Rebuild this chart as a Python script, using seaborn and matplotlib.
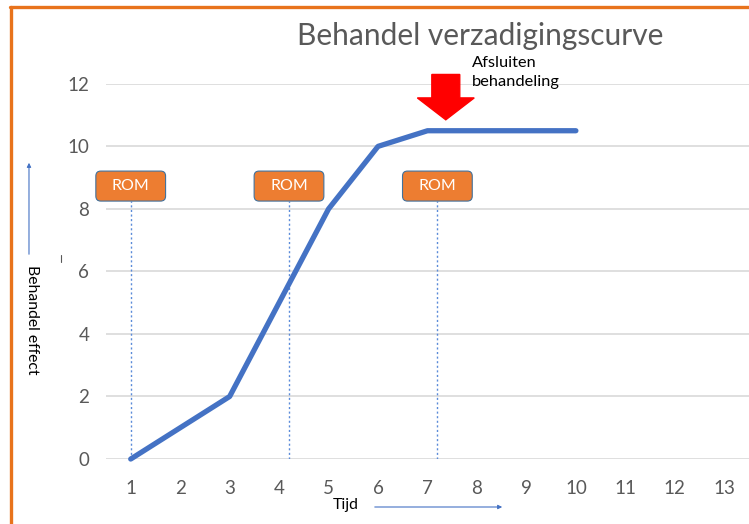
import pandas as pd
import matplotlib.pyplot as plt
import matplotlib.patches as mpatches
from matplotlib.lines import Line2D
import seaborn as sns

# data
tijd = [1, 2, 3, 4, 5, 6, 7, 8, 9, 10]
effect = [0, 1, 2, 5, 8, 10, 10.5, 10.5, 10.5, 10.5]
x_ticks = list(range(1, 14))
rom_momenten = [1, 4.2, 7.2]
rom_labels = ['ROM', 'ROM', 'ROM']
afsluiten_x = 7.37

sns.set_theme(style='white')
plt.rcParams['font.family'] = ['Lato', 'DejaVu Sans']

df = pd.DataFrame({'Tijd': tijd, 'Effect': effect})

fig = plt.figure(figsize=(7.49, 5.24), dpi=100)
ax = fig.add_axes([0.1415, 0.124, 0.8585, 0.716])

# gridlines
for yv in range(0, 13, 2):
	ax.axhline(yv, color='#D9D9D9', lw=1.2, zorder=0)

sns.lineplot(data=df, x='Tijd', y='Effect', ax=ax, color='#4472C4', linewidth=3.8, clip_on=False, zorder=3)

ax.set_xlim(0.5, 13.5)
ax.set_ylim(0, 12)
ax.set_xticks(x_ticks)
ax.set_yticks(range(0, 13, 2))
ax.tick_params(axis='both', length=0, labelsize=13.5, labelcolor='#595959')
ax.tick_params(axis='x', pad=15)
ax.tick_params(axis='y', pad=12)
for s in ax.spines.values():
	s.set_visible(False)
ax.set_xlabel('')
ax.set_ylabel('')

# ROM boxes with dotted lines
box_w, box_h = 1.41, 0.96
for xm, lab in zip(rom_momenten, rom_labels):
	ax.plot([xm, xm], [0, 8.25], color='#5B8BD9', lw=1.0, ls=(0, (1.5, 1.8)), zorder=2)
	box = mpatches.FancyBboxPatch((xm - box_w / 2, 8.25), box_w, box_h,
		boxstyle='round,pad=0,rounding_size=0.1', mutation_aspect=1.587,
		facecolor='#ED7D31', edgecolor='#41719C', lw=0.8, zorder=4, clip_on=False)
	ax.add_patch(box)
	ax.text(xm, 8.25 + box_h / 2, lab, color='white', fontsize=11.5, ha='center', va='center', zorder=5)

# red arrow
arrow = mpatches.FancyArrow(afsluiten_x, 12.3, 0, -1.45, width=0.565, head_width=1.15,
	head_length=0.7, length_includes_head=True, color='#FF0000', clip_on=False, zorder=5)
ax.add_patch(arrow)
fig.text(0.630, 0.893, 'Afsluiten\nbehandeling', fontsize=11.8, color='black', va='top', ha='left', linespacing=1.45)

# title
fig.text(0.641, 0.931, 'Behandel verzadigingscurve', fontsize=21.5, color='#595959', ha='center', va='center')

# axis labels with arrows
fig.text(0.043, 0.389, 'Behandel effect', rotation=-90, fontsize=11.3, color='black', ha='center', va='center')
fig.add_artist(mpatches.FancyArrowPatch((0.0387, 1 - 257 / 524), (0.0387, 1 - 160 / 524),
	transform=fig.transFigure, arrowstyle='-|>', mutation_scale=6, color='#4472C4', lw=0.8))
fig.text(0.461, 0.036, 'Tijd', fontsize=11.3, color='black', ha='center', va='center')
fig.add_artist(mpatches.FancyArrowPatch((372 / 749, 1 - 507 / 524), (505 / 749, 1 - 507 / 524),
	transform=fig.transFigure, arrowstyle='-|>', mutation_scale=6, color='#4472C4', lw=0.8))

# small stray mark
fig.add_artist(Line2D([61 / 749, 61 / 749], [1 - 255 / 524, 1 - 262 / 524], color='#595959', lw=0.8))

# orange frame (top and left)
fig.add_artist(Line2D([10 / 749, 1], [1 - 6.5 / 524, 1 - 6.5 / 524], color='#E8731C', lw=2.4))
fig.add_artist(Line2D([11 / 749, 11 / 749], [0, 1 - 6.5 / 524], color='#E8731C', lw=2.4))

fig.savefig('out.png', dpi=100)
